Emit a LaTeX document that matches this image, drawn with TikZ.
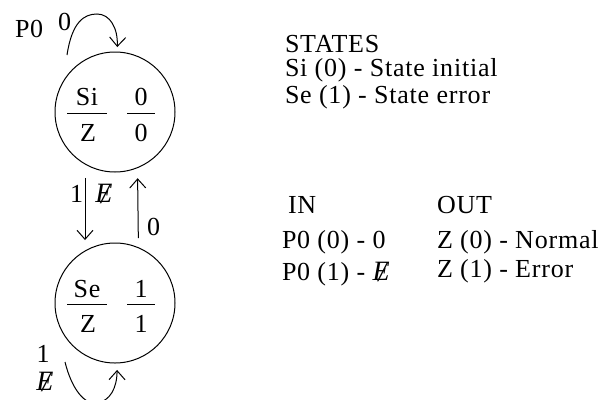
\documentclass[tikz,border=0pt]{standalone}
\usepackage{fontspec}
\setmainfont{Liberation Serif}[LetterSpace=3]
\usetikzlibrary{arrows.meta}
% italic E struck through by a slash, used as the "error" input symbol
\newcommand\slashE{{\fontsize{28}{28}\selectfont\itshape
  \ooalign{E\cr\hidewidth\kern0.08em\raisebox{-0.06em}{/}\hidewidth\cr}}}
\begin{document}
\begin{tikzpicture}[x=1pt,y=-1pt,line width=1pt,
  txt/.style={inner sep=0pt,outer sep=0pt,font=\fontsize{26}{28}\selectfont},
  lbl/.style={txt,anchor=base west},
  ctr/.style={txt,anchor=base},
  state/.style={circle,draw,minimum size=120pt,inner sep=0pt,outer sep=0pt},
  arr/.style={-{Straight Barb[length=9pt,width=16pt]}}]
\useasboundingbox (0,0) rectangle (609,399);

% states
\node[state] (si) at (115,112) {};
\node[state] (se) at (115,303) {};

% Si : output 0
\node[ctr] (siname) at (87,105) {Si};
\node[ctr] (siz) at (88,141) {Z};
\node[ctr] (sicode) at (141,105) {0};
\node[ctr] (siout) at (141,141) {0};
\draw ([shift={(-48,1)}]si.center) -- ++(40,0);
\draw ([shift={(12,1)}]si.center) -- ++(28,0);

% Se : output 1
\node[ctr] (sename) at (87,297) {Se};
\node[ctr] (sez) at (88,332) {Z};
\node[ctr] (secode) at (141,297) {1};
\node[ctr] (seout) at (141,332) {1};
\draw ([shift={(-48,1)}]se.center) -- ++(40,0);
\draw ([shift={(12,1)}]se.center) -- ++(28,0);

% transitions between the states
\draw[arr,shorten <=14pt,shorten >=11pt] (si.240) -- (se.120);
\draw[arr,shorten <=9.6pt,shorten >=10.6pt] (se.67.5) -- (si.292.5);
\node[lbl] (l1) at (70,202) {1};
\node[ctr] (l1e) at (104,202) {\slashE};
\node[lbl] (l0) at (147,235) {0};

% self loop on Si
\node[lbl] (p0) at (15,37) {P0};
\node[lbl] (top0) at (58,30) {0};
\coordinate (ltop) at (67,55);
\draw[arr,shorten >=5pt] (ltop) .. controls (72,22) and (84,14) .. (97,14)
  .. controls (110,14) and (118,28) .. (si.88);

% self loop on Se
\node[ctr] (b1) at (43,362) {1};
\node[ctr] (b1e) at (45,390) {\slashE};
\coordinate (lbot) at (65,362);
\draw[arr,shorten >=7pt] (lbot) .. controls (72,390) and (85,405) .. (97,403)
  .. controls (110,401) and (117,388) .. (se.272);

% legend
\node[lbl] (states) at (285,52) {STATES};
\node[lbl] (st0) at (285,76) {Si (0) - State initial};
\node[lbl] (st1) at (285,103) {Se (1) - State error};
\node[lbl] (in) at (288,213) {IN};
\node[lbl] (out) at (437,213) {OUT};
\node[lbl] (in0) at (282,248) {P0 (0) - 0};
\node[lbl] (in1) at (282,280) {P0 (1) - \slashE};
\node[lbl] (out0) at (437,248) {Z (0) - Normal};
\node[lbl] (out1) at (437,277) {Z (1) - Error};
\end{tikzpicture}
\end{document}
